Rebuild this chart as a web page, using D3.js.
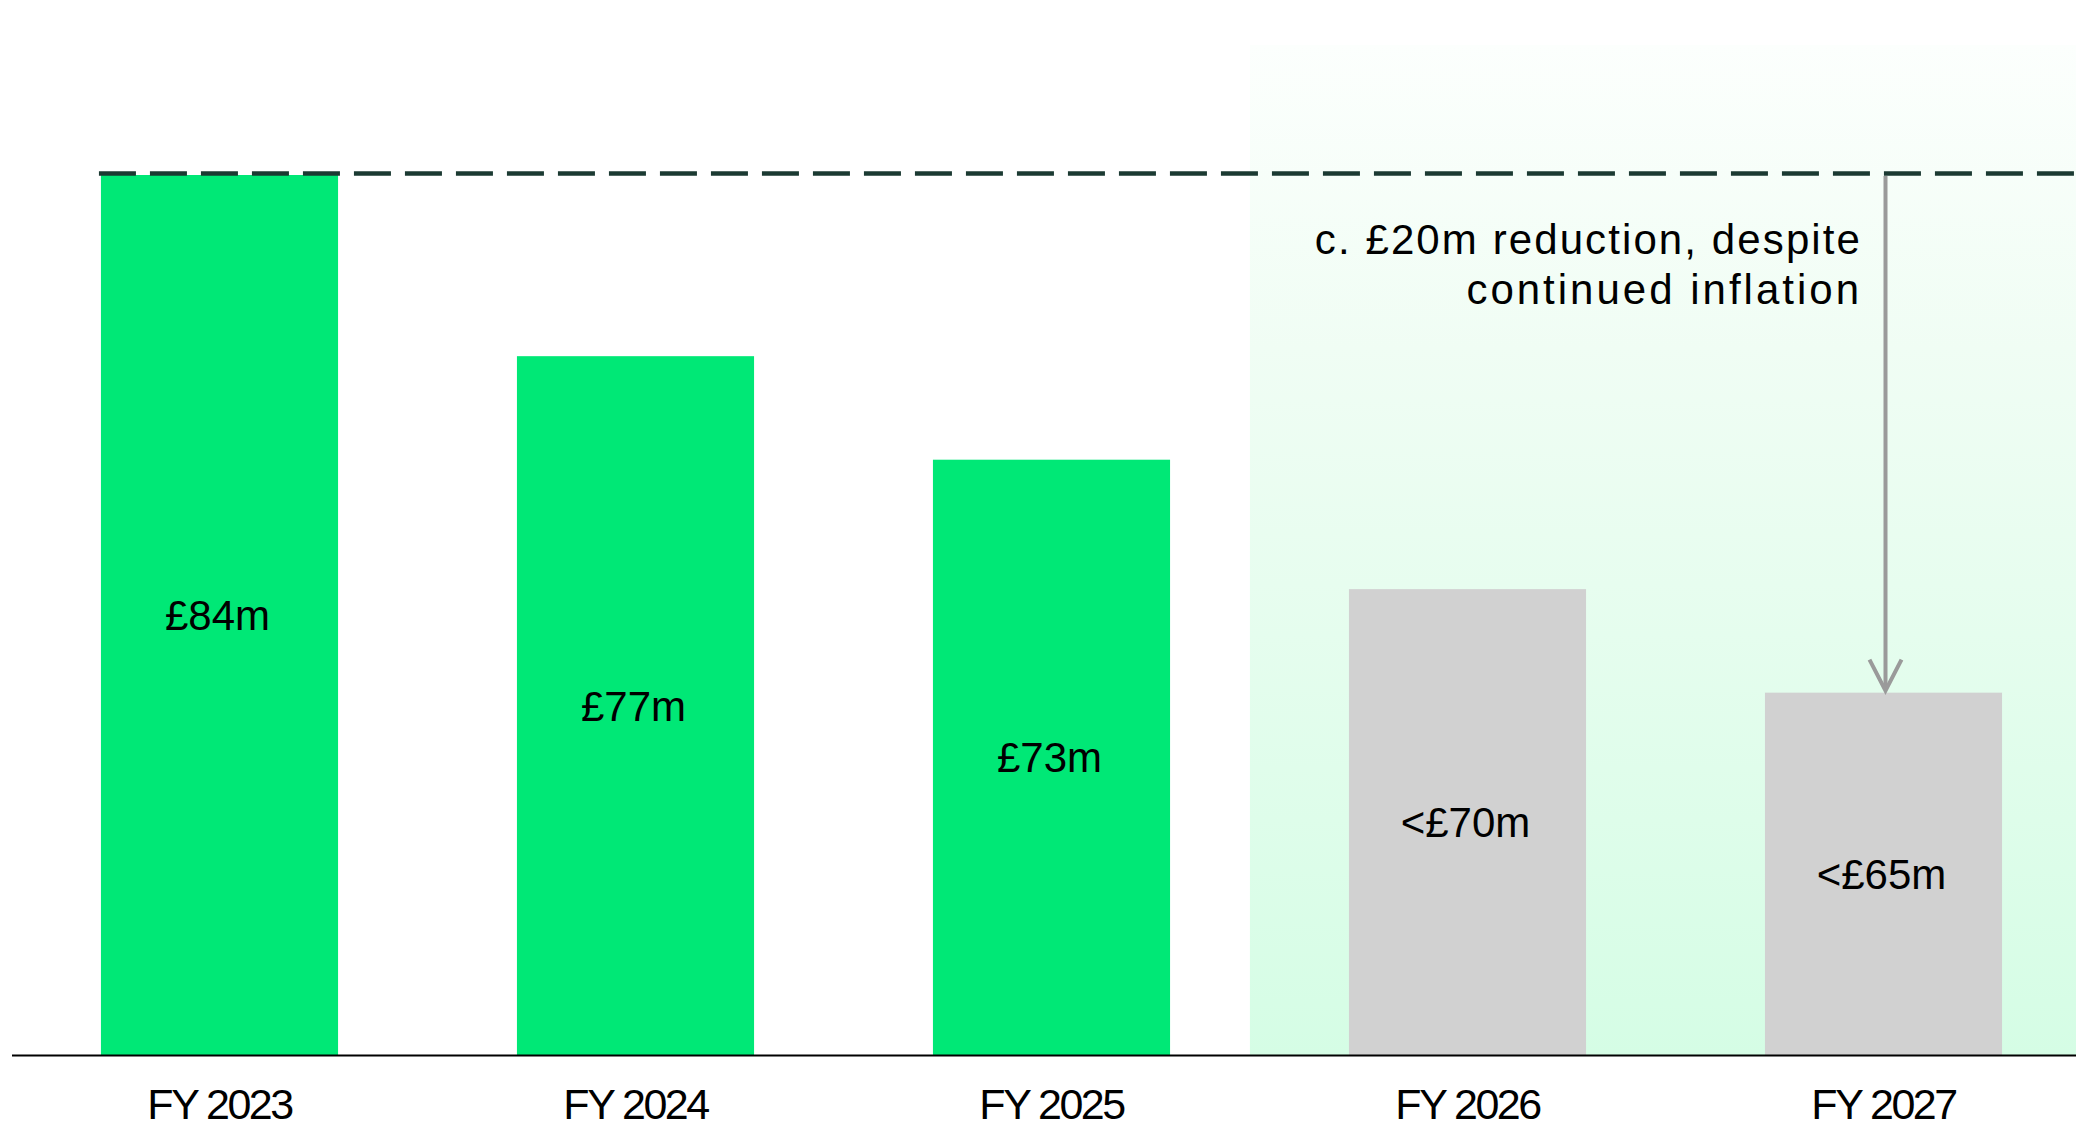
<!DOCTYPE html>
<html>
<head>
<meta charset="utf-8">
<script src="https://cdn.jsdelivr.net/npm/d3@7"></script>
<style>
  body { margin: 0; background: #fff; }
  svg { display: block; font-family: "Liberation Sans", Arial, sans-serif; }
</style>
</head>
<body>
<div id="chart"></div>
<script>
// chart data
const years = ['FY 2023', 'FY 2024', 'FY 2025', 'FY 2026', 'FY 2027'];
const values = [84, 77, 73, 68, 64];
const valueLabels = ['£84m', '£77m', '£73m', '<£70m', '<£65m'];
const isForecast = [false, false, false, true, true];
const referenceValue = 84;
const annotationLines = ['c. £20m reduction, despite', 'continued inflation'];

const width = 2076;
const height = 1129;
const baseY = 1055;

const svg = d3.select('#chart')
    .append('svg')
    .attr('width', width)
    .attr('height', height);

const x = d3.scaleBand()
    .domain(years)
    .range([11.5, 2091.5])
    .paddingInner(0.43)
    .paddingOuter(0.215);

const y = d3.scaleLinear()
    .domain([50, 84])
    .range([baseY, 175]);

// shaded forecast area
const defs = svg.append('defs');
const grad = defs.append('linearGradient')
    .attr('id', 'shade')
    .attr('x1', 0).attr('y1', 0).attr('x2', 0).attr('y2', 1);
grad.append('stop').attr('offset', '0%').attr('stop-color', '#fcfffd');
grad.append('stop').attr('offset', '30%').attr('stop-color', '#f0fdf4');
grad.append('stop').attr('offset', '100%').attr('stop-color', '#d5fde5');

const firstForecast = years[isForecast.indexOf(true)];
const shadeX = x(firstForecast) - x.step() * 0.238;
svg.append('rect')
    .attr('x', shadeX)
    .attr('y', 45)
    .attr('width', width - shadeX)
    .attr('height', baseY - 45)
    .attr('fill', 'url(#shade)');

// bars
const data = years.map((d, i) => ({
  year: d, value: values[i], label: valueLabels[i], forecast: isForecast[i],
}));

svg.append('g')
    .selectAll('rect')
    .data(data)
    .join('rect')
    .attr('x', (d) => x(d.year))
    .attr('y', (d) => y(d.value))
    .attr('width', x.bandwidth())
    .attr('height', (d) => baseY - y(d.value))
    .attr('fill', (d) => d.forecast ? '#d1d1d1' : '#00e876');

// value labels
svg.append('g')
    .selectAll('text')
    .data(data)
    .join('text')
    .attr('x', (d) => x(d.year) + x.bandwidth() / 2 - 2)
    .attr('y', (d) => (y(d.value) + baseY) / 2 + 15)
    .attr('text-anchor', 'middle')
    .attr('font-size', 42)
    .attr('fill', '#000')
    .text((d) => d.label);

// dashed reference line
svg.append('line')
    .attr('x1', x(years[0]) - 2)
    .attr('x2', width)
    .attr('y1', y(referenceValue) - 1.5)
    .attr('y2', y(referenceValue) - 1.5)
    .attr('stroke', '#1b3a32')
    .attr('stroke-width', 4.5)
    .attr('stroke-dasharray', '37 14');

// arrow down to last bar
const last = data[data.length - 1];
const ax = x(last.year) + x.bandwidth() / 2 + 2;
const tipY = y(last.value) - 2;
svg.append('line')
    .attr('x1', ax).attr('x2', ax)
    .attr('y1', y(referenceValue) + 1)
    .attr('y2', tipY - 1)
    .attr('stroke', '#9a9a9a')
    .attr('stroke-width', 4);
svg.append('path')
    .attr('d', `M${ax - 16},${tipY - 31}L${ax},${tipY}L${ax + 16},${tipY - 31}`)
    .attr('fill', 'none')
    .attr('stroke', '#9a9a9a')
    .attr('stroke-width', 4);

// annotation
svg.append('g')
    .selectAll('text')
    .data(annotationLines)
    .join('text')
    .attr('x', 1862)
    .attr('y', (d, i) => 254 + i * 50)
    .attr('text-anchor', 'end')
    .attr('font-size', 42)
    .attr('letter-spacing', (d, i) => i === 0 ? '2.1px' : '3px')
    .attr('fill', '#000')
    .text((d) => d);

// x axis
svg.append('line')
    .attr('x1', 12).attr('x2', width)
    .attr('y1', baseY + 0.5).attr('y2', baseY + 0.5)
    .attr('stroke', '#000')
    .attr('stroke-width', 2);

svg.append('g')
    .selectAll('text')
    .data(years)
    .join('text')
    .attr('x', (d) => x(d) + x.bandwidth() / 2)
    .attr('y', 1119)
    .attr('text-anchor', 'middle')
    .attr('font-size', 43)
    .attr('letter-spacing', '-2.5px')
    .attr('fill', '#000')
    .text((d) => d);
</script>
</body>
</html>
